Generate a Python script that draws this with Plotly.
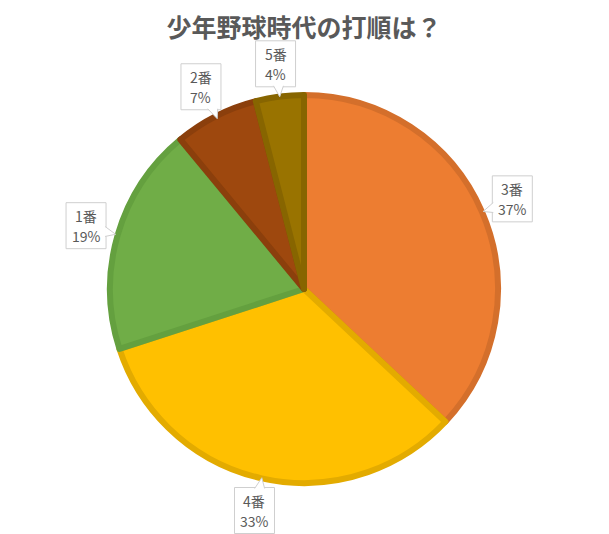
import math

import plotly.graph_objects as go

# 少年野球時代の打順アンケート
labels = ["3番", "4番", "1番", "2番", "5番"]
values = [37, 33, 19, 7, 4]
fill_colors = ["#ED7D31", "#FFC000", "#70AD47", "#9E480E", "#997300"]
edge_colors = ["#D46F2B", "#E3AB00", "#64A03F", "#8B3F0C", "#876500"]

W, H = 609, 534
OFF = 8  # ページ余白ぶんのずれ
CX, CY, R = 304 - OFF, 289 - OFF, 194  # 円の中心と半径 (px)
BOX_HW, BOX_HH = 20, 23               # ラベル枠の半幅・半高
LABEL_FONT = dict(size=14, color="#595959")


def px(x, y):
    """ピクセル座標 → paper 座標"""
    return x / W, 1 - y / H


fig = go.Figure(
    go.Pie(
        labels=labels,
        values=values,
        sort=False,
        direction="clockwise",
        rotation=0,
        textinfo="none",
        hoverinfo="label+percent",
        marker=dict(colors=fill_colors, line=dict(color=edge_colors, width=6)),
        domain=dict(
            x=[(CX - R) / W, (CX + R) / W],
            y=[1 - (CY + R) / H, 1 - (CY - R) / H],
        ),
    )
)

# データラベル(吹き出し)
total = sum(values)
cum = 0
for lab, v in zip(labels, values):
    mid = (cum + v / 2) / total * 2 * math.pi
    cum += v
    bx = CX + 1.17 * R * math.sin(mid)
    by = CY - 1.17 * R * math.cos(mid)

    # 枠
    x0, y0 = px(bx - BOX_HW, by + BOX_HH)
    x1, y1 = px(bx + BOX_HW, by - BOX_HH)
    fig.add_shape(type="rect", xref="paper", yref="paper",
                  x0=x0, y0=y0, x1=x1, y1=y1,
                  fillcolor="white", line=dict(color="#CFCFCF", width=1))

    # 吹き出しの先端(円の中心方向)
    ux, uy = CX - bx, CY - by
    n = math.hypot(ux, uy)
    ux, uy = ux / n, uy / n
    if abs(ux) * BOX_HH > abs(uy) * BOX_HW:
        t = BOX_HW / abs(ux)
        ex, ey = bx + ux * t, by + uy * t
        side = math.copysign(1, ux)
        b1 = (ex - side * 1, ey - 5)
        b2 = (ex - side * 1, ey + 5)
    else:
        t = BOX_HH / abs(uy)
        ex, ey = bx + ux * t, by + uy * t
        side = math.copysign(1, uy)
        b1 = (ex - 5, ey - side * 1)
        b2 = (ex + 5, ey - side * 1)
    tip = (ex + ux * 10, ey + uy * 10)
    pts = [px(*b1), px(*tip), px(*b2)]
    path = "M {:.5f},{:.5f} L {:.5f},{:.5f} L {:.5f},{:.5f}".format(
        pts[0][0], pts[0][1], pts[1][0], pts[1][1], pts[2][0], pts[2][1])
    fig.add_shape(type="path", xref="paper", yref="paper", path=path,
                  fillcolor="white", line=dict(color="#CFCFCF", width=1))

    for txt, dy in ((lab, -10), (f"{round(v / total * 100)}%", 10)):
        ax, ay = px(bx, by + dy)
        fig.add_annotation(
            x=ax, y=ay, xref="paper", yref="paper",
            xanchor="center", yanchor="middle",
            text=txt, showarrow=False, font=LABEL_FONT,
        )

fig.update_layout(
    width=W, height=H,
    title=dict(
        text="<b>少年野球時代の打順は？</b>",
        x=(304 - OFF) / W, xanchor="center", y=1 - (28 - OFF) / H, yanchor="middle",
        font=dict(size=25, color="#595959"),
    ),
    font=dict(family="Noto Sans CJK JP, Noto Sans, sans-serif"),
    showlegend=False,
    margin=dict(l=0, r=0, t=0, b=0),
    paper_bgcolor="white",
    plot_bgcolor="white",
)

fig.write_html("out.html")
